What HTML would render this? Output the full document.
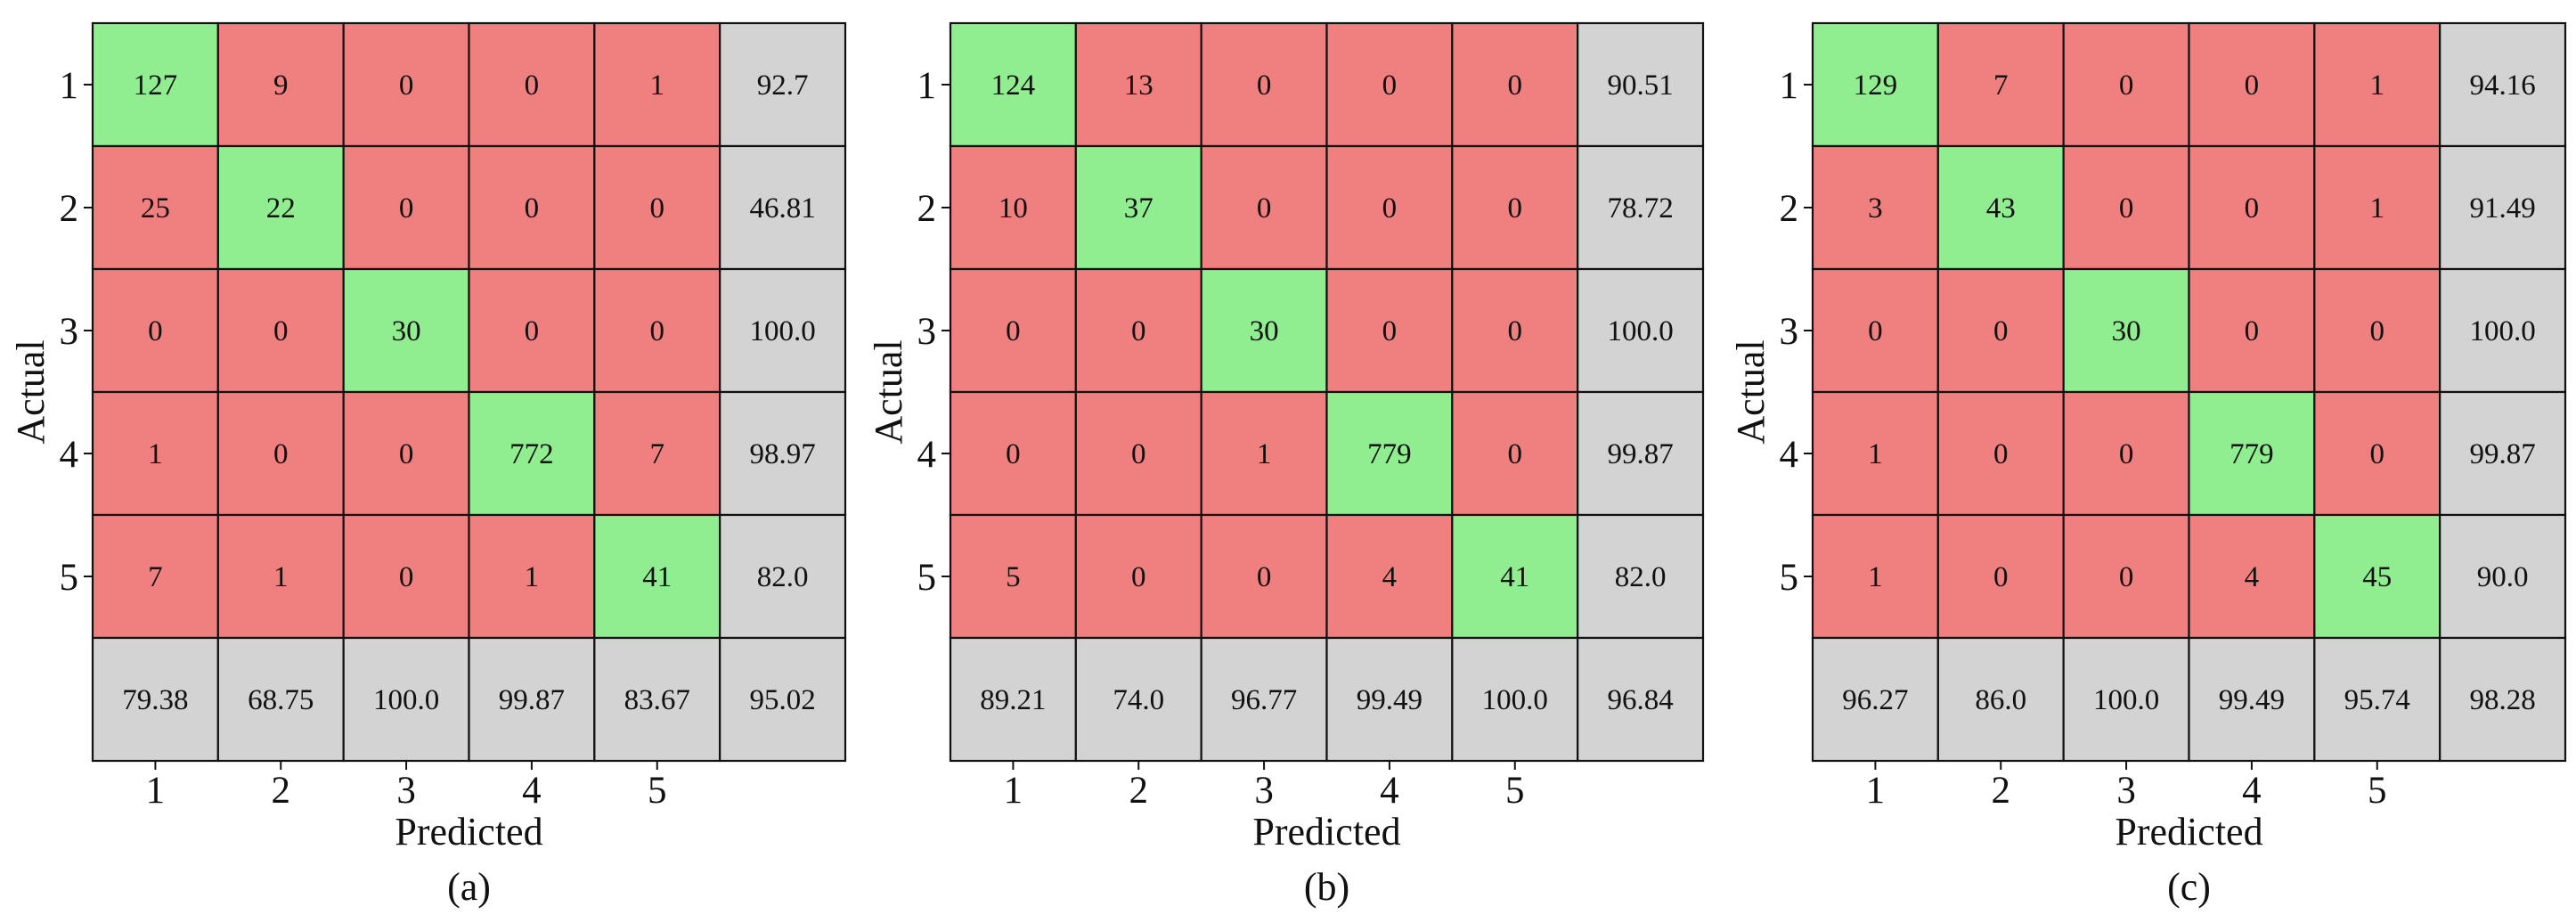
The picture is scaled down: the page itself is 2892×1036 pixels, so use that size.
<!DOCTYPE html>
<html><head><meta charset="utf-8"><style>
html,body{margin:0;padding:0;background:#fff;}
svg{display:block;font-family:"Liberation Serif",serif;}
</style></head><body>
<svg id="fig" width="2892" height="1036" viewBox="0 0 2892 1036" xmlns="http://www.w3.org/2000/svg"></svg>
<script>
const classLabels = ["1","2","3","4","5"];
const panelTitles = ["(a)","(b)","(c)"];
const matrixA = [[127,9,0,0,1],[25,22,0,0,0],[0,0,30,0,0],[1,0,0,772,7],[7,1,0,1,41]];
const matrixB = [[124,13,0,0,0],[10,37,0,0,0],[0,0,30,0,0],[0,0,1,779,0],[5,0,0,4,41]];
const matrixC = [[129,7,0,0,1],[3,43,0,0,1],[0,0,30,0,0],[1,0,0,779,0],[1,0,0,4,45]];
const rowPctA = ["92.7","46.81","100.0","98.97","82.0"];
const rowPctB = ["90.51","78.72","100.0","99.87","82.0"];
const rowPctC = ["94.16","91.49","100.0","99.87","90.0"];
const colPctA = ["79.38","68.75","100.0","99.87","83.67","95.02"];
const colPctB = ["89.21","74.0","96.77","99.49","100.0","96.84"];
const colPctC = ["96.27","86.0","100.0","99.49","95.74","98.28"];

const NS="http://www.w3.org/2000/svg";
const svg=document.getElementById('fig');
function mk(tag,attrs,parent){const e=document.createElementNS(NS,tag);for(const k in attrs)e.setAttribute(k,attrs[k]);(parent||svg).appendChild(e);return e;}
const lefts=[104,1067,2035], top0=26, W=845, H=828;
const cw=W/6, ch=H/6;
const panels=[[matrixA,rowPctA,colPctA],[matrixB,rowPctB,colPctB],[matrixC,rowPctC,colPctC]];
panels.forEach((p,pi)=>{
  const [m,rp,cp]=p; const L=lefts[pi];
  const g=mk('g',{});
  
  
  const xs=j=>L+j*cw, ys=i=>top0+i*ch;
  function cell(x,y,fill,txt,name){
    const r=mk('rect',{x:x,y:y,width:cw,height:ch,fill:fill,stroke:'#111','stroke-width':2.2},g);
    
    
    const t=mk('text',{x:x+cw/2,y:y+ch/2+11,'text-anchor':'middle','font-size':33,fill:'#111'},g);
    t.textContent=txt;
    
    
  }
  for(let i=0;i<5;i++){
    for(let j=0;j<5;j++) cell(xs(j),ys(i),i===j?'#90EE90':'#F08080',String(m[i][j]),'cell-'+(i+1)+'-'+(j+1));
    cell(xs(5),ys(i),'#D3D3D3',rp[i],'row-accuracy-'+(i+1));
  }
  for(let j=0;j<6;j++) cell(xs(j),ys(5),'#D3D3D3',cp[j],'col-accuracy-'+(j+1));
  classLabels.forEach((lab,k)=>{
    const yc=ys(k)+ch/2;
    mk('line',{x1:L-10,x2:L,y1:yc,y2:yc,stroke:'#111','stroke-width':2},g);
    const t=mk('text',{x:L-16,y:yc+15,'text-anchor':'end','font-size':43,fill:'#111'},g);
    t.textContent=lab;
    
    
    const xc=xs(k)+cw/2;
    mk('line',{x1:xc,x2:xc,y1:top0+H,y2:top0+H+10,stroke:'#111','stroke-width':2},g);
    const t2=mk('text',{x:xc,y:901,'text-anchor':'middle','font-size':43,fill:'#111'},g);
    t2.textContent=lab;
    
    
  });
  const xt=mk('text',{x:L+W/2,y:948,'text-anchor':'middle','font-size':44,fill:'#111'},g);
  xt.textContent='Predicted';
  
  
  const yt=mk('text',{x:0,y:0,'text-anchor':'middle','font-size':44,fill:'#111',transform:'translate('+(L-55)+','+(top0+H/2)+') rotate(-90)'},g);
  yt.textContent='Actual';
  
  
  const pt=mk('text',{x:L+W/2,y:1010,'text-anchor':'middle','font-size':44,fill:'#111'},g);
  pt.textContent=panelTitles[pi];
  
  
});
</script>
</body></html>
